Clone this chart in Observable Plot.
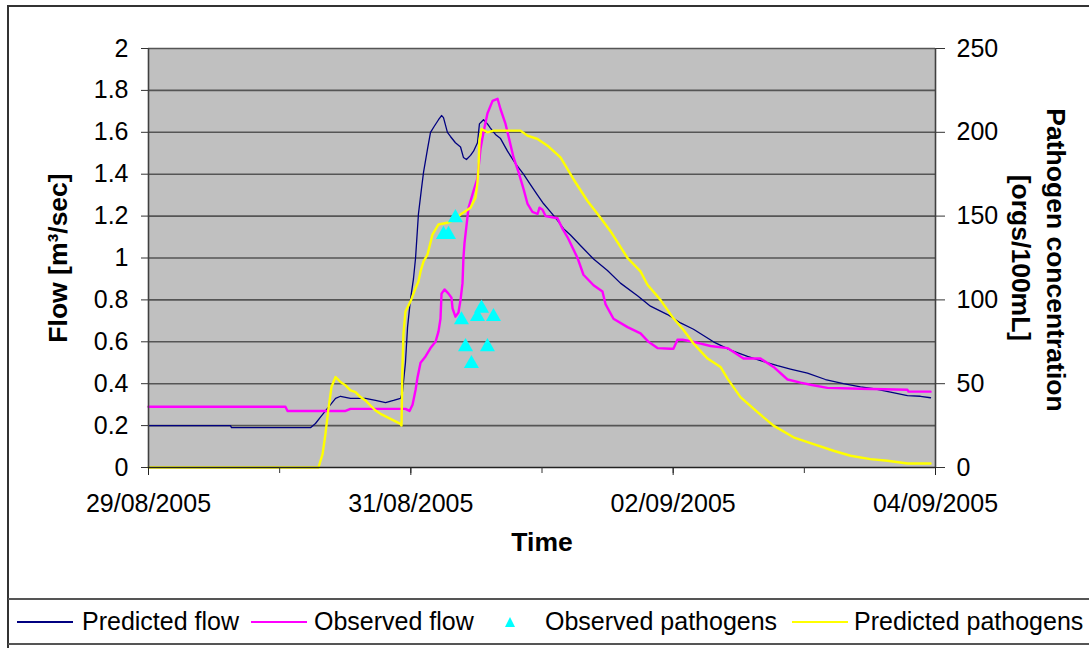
<!DOCTYPE html>
<html><head><meta charset="utf-8">
<script src="https://cdn.jsdelivr.net/npm/d3@7"></script>
<script src="https://cdn.jsdelivr.net/npm/@observablehq/plot@0.6"></script>
<style>
html,body{margin:0;padding:0;background:#fff;overflow:hidden;width:1089px;height:648px;}
#wrap{position:relative;width:1089px;height:648px;font-family:"Liberation Sans",Arial,sans-serif;color:#000;}
#border{position:absolute;left:7px;top:5px;width:1100px;height:700px;border:2px solid #333;box-sizing:border-box;}
#chart{position:absolute;left:0;top:0;}
#legend{position:absolute;left:8px;top:598px;width:1100px;height:47px;border-top:2px solid #555;border-bottom:2px solid #555;box-sizing:border-box;font-size:25px;}
#legend .t{position:absolute;top:0;line-height:43px;white-space:nowrap;}
#legend .sw{position:absolute;width:56px;}
#legend svg{position:absolute;}
</style></head>
<body><div id="wrap"><div id="chart"></div><div id="border"></div><div id="legend"></div></div>
<script>
// x values are days since 29/08/2005 00:00
const seriesNames = ["Predicted flow", "Observed flow", "Observed pathogens", "Predicted pathogens"];
const seriesColors = ["#000080", "#ff00ff", "#00ffff", "#ffff00"];
const dateTickLabels = ["29/08/2005", "31/08/2005", "02/09/2005", "04/09/2005"];
const flowTicks = [0, 0.2, 0.4, 0.6, 0.8, 1, 1.2, 1.4, 1.6, 1.8, 2];
const pathogenTicks = [0, 50, 100, 150, 200, 250];

const predFlowDay = [0,0.625,0.633,1.235,1.273,1.311,1.349,1.388,1.426,1.464,1.540,1.654,1.731,1.807,1.868,1.921,1.936,1.959,1.975,1.997,2.020,2.036,2.058,2.081,2.097,2.127,2.150,2.180,2.211,2.234,2.249,2.279,2.302,2.340,2.379,2.401,2.424,2.455,2.478,2.508,2.523,2.554,2.584,2.607,2.645,2.684,2.737,2.798,2.859,2.912,2.966,3.011,3.065,3.118,3.164,3.217,3.293,3.393,3.499,3.598,3.728,3.827,3.957,4.056,4.155,4.307,4.437,4.567,4.666,4.795,4.894,5.024,5.161,5.298,5.428,5.527,5.657,5.786,5.885,5.962];
const predFlowVal = [0.20,0.20,0.19,0.19,0.21,0.24,0.27,0.30,0.33,0.34,0.33,0.33,0.32,0.31,0.32,0.33,0.36,0.50,0.67,0.80,0.90,1.00,1.21,1.33,1.41,1.52,1.60,1.63,1.66,1.68,1.67,1.60,1.58,1.55,1.53,1.48,1.47,1.49,1.51,1.55,1.64,1.66,1.64,1.62,1.59,1.57,1.51,1.45,1.40,1.35,1.30,1.26,1.22,1.18,1.14,1.11,1.06,0.995,0.94,0.88,0.82,0.77,0.73,0.69,0.66,0.60,0.56,0.53,0.51,0.486,0.47,0.45,0.42,0.40,0.385,0.376,0.36,0.343,0.34,0.333];

const obsFlowDay = [0,1.044,1.060,1.502,1.540,1.959,1.990,2.013,2.036,2.051,2.074,2.112,2.150,2.188,2.211,2.226,2.234,2.257,2.287,2.310,2.318,2.340,2.363,2.379,2.394,2.401,2.409,2.440,2.478,2.508,2.531,2.554,2.584,2.623,2.661,2.684,2.722,2.760,2.783,2.821,2.859,2.889,2.927,2.966,2.981,3.004,3.027,3.118,3.156,3.194,3.271,3.316,3.393,3.461,3.484,3.545,3.652,3.751,3.812,3.880,3.980,4.002,4.033,4.071,4.155,4.285,4.414,4.536,4.666,4.765,4.872,4.971,5.047,5.176,5.428,5.786,5.794,5.962];
const obsFlowVal = [0.29,0.29,0.27,0.27,0.28,0.28,0.27,0.30,0.37,0.43,0.50,0.53,0.57,0.60,0.65,0.71,0.83,0.85,0.83,0.81,0.76,0.72,0.74,0.80,0.88,1.00,1.07,1.24,1.32,1.38,1.52,1.60,1.69,1.75,1.76,1.71,1.64,1.54,1.48,1.41,1.33,1.26,1.22,1.21,1.24,1.23,1.20,1.19,1.14,1.10,1.00,0.92,0.87,0.84,0.78,0.71,0.67,0.64,0.60,0.57,0.567,0.567,0.61,0.61,0.60,0.58,0.57,0.52,0.52,0.48,0.42,0.405,0.395,0.38,0.376,0.371,0.362,0.362];

const predPathDay = [0,1.296,1.327,1.349,1.372,1.395,1.426,1.464,1.502,1.540,1.578,1.616,1.654,1.692,1.731,1.769,1.845,1.921,1.929,1.936,1.944,1.959,1.997,2.036,2.058,2.074,2.097,2.127,2.165,2.211,2.279,2.340,2.379,2.455,2.493,2.508,2.516,2.523,2.539,2.584,2.630,2.836,2.889,2.966,3.042,3.141,3.240,3.347,3.446,3.522,3.652,3.751,3.804,3.903,4.002,4.079,4.155,4.262,4.361,4.414,4.513,4.643,4.765,4.917,5.070,5.222,5.352,5.504,5.634,5.786,5.962];
const predPathVal = [0,0,8,20,35,48,54,51,49,46,45,42,40,37,34,32,29,26,25,60,80,93,99,107,111,117,123,127,139,145,146,148,151,155,161,170,179,195,202,200,201,201,198,196,192,185,172,159,149,141,125,117,109,100,89,82,74,65,60,53,42,33,25,18,14,10,7,5,4,2.4,2.4];

const obsPathDay = [2.249,2.287,2.340,2.386,2.417,2.462,2.508,2.539,2.584,2.630];
const obsPathVal = [139,139,149,88,72,62,90,95,72,90];

const start = Date.UTC(2005, 7, 29);
const toDate = d => new Date(start + d * 864e5);
const pathToFlow = p => p * 2 / 250;

const predFlow = predFlowDay.map((d, i) => ({t: toDate(d), v: predFlowVal[i]}));
const obsFlow = obsFlowDay.map((d, i) => ({t: toDate(d), v: obsFlowVal[i]}));
const predPath = predPathDay.map((d, i) => ({t: toDate(d), v: pathToFlow(predPathVal[i])}));
const obsPath = obsPathDay.map((d, i) => ({t: toDate(d), v: pathToFlow(obsPathVal[i])}));

const allDays = d3.range(0, 7).map(toDate);
const labelDays = [0, 2, 4, 6].map(toDate);
const fmtDate = d3.utcFormat("%d/%m/%Y");
const titleSize = 26.5;

const chart = Plot.plot({
  width: 1089, height: 598,
  marginLeft: 148, marginRight: 154, marginTop: 48, marginBottom: 131,
  style: {fontFamily: '"Liberation Sans", Arial, sans-serif', fontSize: "25px", color: "#000", background: "transparent", overflow: "visible"},
  x: {type: "utc", domain: [toDate(0), toDate(6)]},
  y: {domain: [0, 2]},
  marks: [
    Plot.frame({fill: "#c0c0c0", stroke: "none"}),
    Plot.ruleY(flowTicks.slice(1), {stroke: "#555", strokeWidth: 1.6}),
    Plot.line(predFlow, {x: "t", y: "v", stroke: seriesColors[0], strokeWidth: 1.3}),
    Plot.line(obsFlow, {x: "t", y: "v", stroke: seriesColors[1], strokeWidth: 2.4}),
    Plot.line(predPath, {x: "t", y: "v", stroke: seriesColors[3], strokeWidth: 2.4}),
    Plot.dot(obsPath, {x: "t", y: "v", symbol: "triangle", r: 5.6, fill: seriesColors[2], stroke: "none"}),
    Plot.ruleY([0], {stroke: "#222", strokeWidth: 1.6}),
    Plot.ruleX([toDate(0), toDate(6)], {stroke: "#404040", strokeWidth: 1.6}),
    Plot.axisY({ticks: flowTicks, tickSize: 7, tickPadding: 13, tickFormat: d => String(+d.toFixed(1)), label: null, stroke: "#333"}),
    Plot.axisY({anchor: "right", ticks: pathogenTicks.map(pathToFlow), tickSize: 9, tickPadding: 12, tickFormat: d => String(Math.round(d * 125)), label: null, stroke: "#333"}),
    Plot.axisX({ticks: allDays, tickSize: 6, tickFormat: () => "", label: null, stroke: "#333"}),
    Plot.axisX({ticks: labelDays, tickSize: 8, tickPadding: 19, tickFormat: (d, i) => dateTickLabels[i] ?? fmtDate(d), label: null, stroke: "#222"}),
    Plot.text(["Time"], {frameAnchor: "bottom", dy: 83, fontWeight: "bold", fontSize: titleSize, textAnchor: "middle"}),
    Plot.text(["Flow [m³/sec]"], {frameAnchor: "left", dx: -90, rotate: -90, fontWeight: "bold", fontSize: titleSize, textAnchor: "middle"}),
    Plot.text(["Pathogen concentration"], {frameAnchor: "right", dx: 120, dy: 2, rotate: 90, fontWeight: "bold", fontSize: titleSize, textAnchor: "middle"}),
    Plot.text(["[orgs/100mL]"], {frameAnchor: "right", dx: 85, rotate: 90, fontWeight: "bold", fontSize: titleSize, textAnchor: "middle"})
  ]
});
document.getElementById("chart").append(chart);

// Legend
const legend = document.getElementById("legend");
const items = [
  {kind: "line", color: seriesColors[0], w: 1.5, sx: 9, tx: 74, name: seriesNames[0]},
  {kind: "line", color: seriesColors[1], w: 2.5, sx: 243, tx: 306, name: seriesNames[1]},
  {kind: "tri", color: seriesColors[2], sx: 502, tx: 537, name: seriesNames[2]},
  {kind: "line", color: seriesColors[3], w: 2.5, sx: 784, tx: 846, name: seriesNames[3]}
];
for (const it of items) {
  if (it.kind === "line") {
    const s = document.createElement("div");
    s.className = "sw";
    s.style.left = it.sx + "px";
    s.style.top = (22 - it.w / 2) + "px";
    s.style.height = it.w + "px";
    s.style.background = it.color;
    legend.append(s);
  } else {
    const svg = d3.create("svg").attr("width", 12).attr("height", 12)
      .style("left", (it.sx - 6) + "px").style("top", "16px");
    svg.append("path").attr("d", "M6,1 L11,11 L1,11 Z").attr("fill", it.color);
    legend.append(svg.node());
  }
  const t = document.createElement("span");
  t.className = "t";
  t.style.left = it.tx + "px";
  t.textContent = it.name;
  legend.append(t);
}
</script>
</body></html>
